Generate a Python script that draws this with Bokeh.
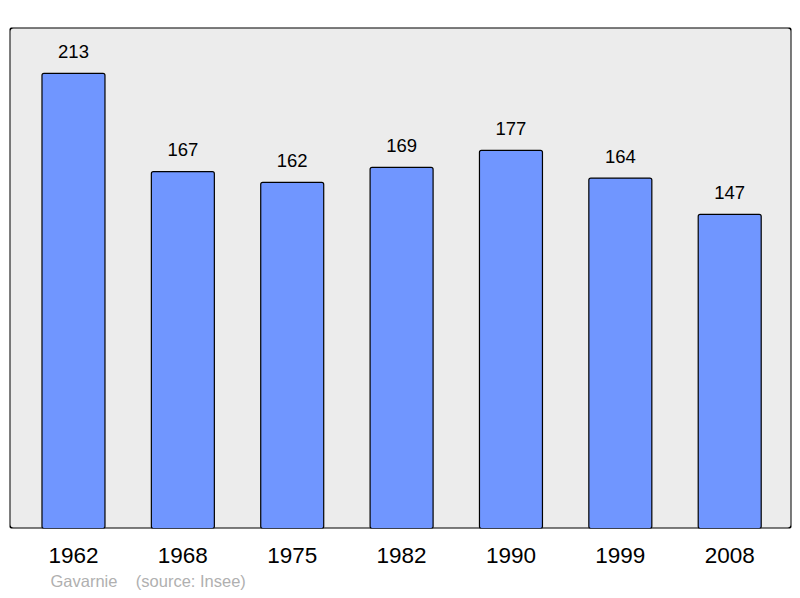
from bokeh.plotting import figure
from bokeh.models import ColumnDataSource, Title, BoxAnnotation, FixedTicker, Range1d
from bokeh.core.properties import value
from bokeh.embed import file_html
from bokeh.resources import INLINE

years = ["1962", "1968", "1975", "1982", "1990", "1999", "2008"]
population = [213, 167, 162, 169, 177, 164, 147]
xpos = list(range(len(years)))
commune = "Gavarnie"
source_note = "(source: Insee)"

src = ColumnDataSource(dict(x=xpos, top=population, lbl=[str(v) for v in population]))

FONT = "Liberation Sans"

p = figure(width=800, height=598, output_backend="svg", toolbar_location=None,
           x_range=Range1d(-0.585, 6.565), y_range=Range1d(0, 234.5),
           min_border_left=9, min_border_right=9, min_border_top=27, min_border_bottom=70)
p.background_fill_color = "white"
p.border_fill_color = "white"
p.outline_line_color = None
p.grid.visible = False
p.yaxis.visible = False

frame_box = BoxAnnotation(fill_color="#ececec", fill_alpha=1, line_color="black",
                          line_alpha=1, line_width=2, border_radius=4, level="underlay")
p.add_layout(frame_box)

p.vbar(x="x", top="top", width=0.576, bottom=0, source=src, fill_color="#7096ff",
       line_color="black", line_width=1.2, border_radius=2)
p.text(x="x", y="top", text="lbl", source=src, text_align="center",
       text_baseline="alphabetic", y_offset=-22, text_font_size="18.5px",
       text_color="black", text_font=value(FONT))

ax = p.xaxis[0]
ax.ticker = FixedTicker(ticks=xpos)
ax.major_label_overrides = {i: y for i, y in zip(xpos, years)}
ax.axis_line_color = None
ax.major_tick_line_color = None
ax.minor_tick_line_color = None
ax.major_tick_out = 0
ax.major_tick_in = 0
ax.major_label_standoff = 19
ax.major_label_text_font_size = "22.5px"
ax.major_label_text_font = FONT
ax.major_label_text_color = "black"

footer = Title(text=commune + "\u00a0" * 4 + source_note, align="left", offset=41,
               standoff=9, text_font_size="16.5px", text_font_style="normal",
               text_color="#b0b0b0", text_font=FONT)
p.add_layout(footer, "below")

open("out.html", "w").write(file_html(p, INLINE))
